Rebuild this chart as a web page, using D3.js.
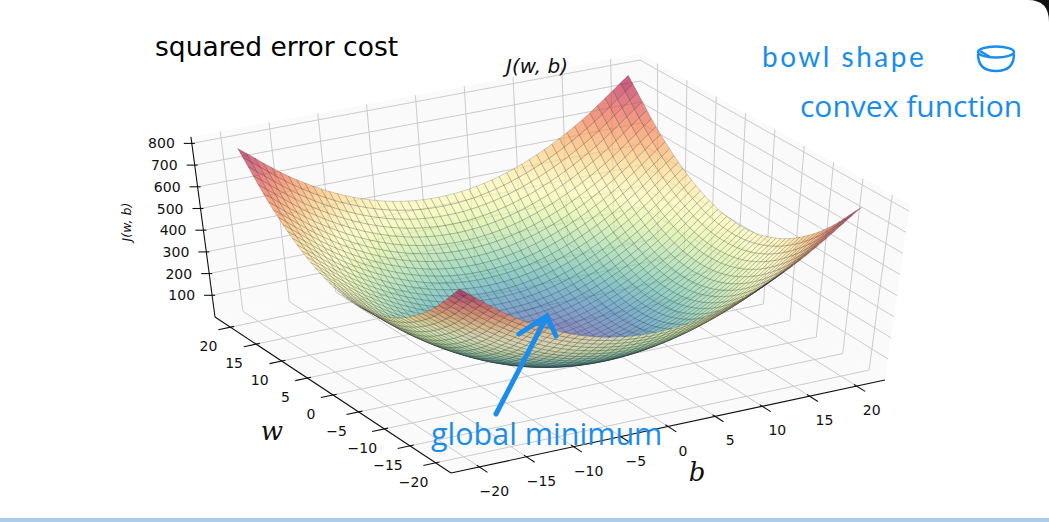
<!DOCTYPE html>
<html><head><meta charset="utf-8">
<script src="https://cdn.jsdelivr.net/npm/d3@7"></script>
<style>body{margin:0;background:#fff;overflow:hidden}svg{display:block}</style>
</head><body>
<svg id="c" width="1049" height="522"></svg>
<script>
// ---- data ----
const bTicks = [-20,-15,-10,-5,0,5,10,15,20];
const wTicks = [-20,-15,-10,-5,0,5,10,15,20];
const zTicks = [100,200,300,400,500,600,700,800];
const gridB = [-20,-15,-10,-5,0,5,10,15,20];
const gridW = [-20,-15,-10,-5,0,5,10,15,20];
// J(w,b) sampled at gridW (rows) x gridB (cols)
const J = [
 [800,625,500,425,400,425,500,625,800],
 [625,450,325,250,225,250,325,450,625],
 [500,325,200,125,100,125,200,325,500],
 [425,250,125, 50, 25, 50,125,250,425],
 [400,225,100, 25,  0, 25,100,225,400],
 [425,250,125, 50, 25, 50,125,250,425],
 [500,325,200,125,100,125,200,325,500],
 [625,450,325,250,225,250,325,450,625],
 [800,625,500,425,400,425,500,625,800]
];

const svg = d3.select("#c");
const lim = 23, zTop = 830;
const u = d3.scaleLinear().domain([-lim,lim]).range([0,1]);
const C = {F:[451,473], R:[885,380], L:[215,317], K:[642,228]};
const Zv = {F:[-0.006,-0.209], R:[0.03,-0.211], L:[-0.029,-0.217], K:[-0.0025,-0.21]};
function bil(o,s,t,k){ return (1-s)*(1-t)*o.F[k] + s*(1-t)*o.R[k] + (1-s)*t*o.L[k] + s*t*o.K[k]; }
function P(b,w,z){ const s=u(b), t=u(w); return [bil(C,s,t,0)+z*bil(Zv,s,t,0), bil(C,s,t,1)+z*bil(Zv,s,t,1)]; }
const line = d3.line();

const pane = svg.append("g");
const paneFill = "#fafafa";
function poly(pts){ return "M"+pts.map(p=>p.join(",")).join("L")+"Z"; }
pane.append("path").attr("d",poly([P(-lim,-lim,0),P(lim,-lim,0),P(lim,lim,0),P(-lim,lim,0)])).attr("fill",paneFill);
pane.append("path").attr("d",poly([P(-lim,lim,0),P(lim,lim,0),P(lim,lim,zTop),P(-lim,lim,zTop)])).attr("fill",paneFill);
pane.append("path").attr("d",poly([P(lim,-lim,0),P(lim,lim,0),P(lim,lim,zTop),P(lim,-lim,zTop)])).attr("fill",paneFill);
const gc = "#cbcbcb";
function seg(a,b2,col,wd){ pane.append("path").attr("d",line([a,b2])).attr("stroke",col).attr("stroke-width",wd).attr("fill","none"); }
bTicks.forEach(b=>{ seg(P(b,-lim,0),P(b,lim,0),gc,1); seg(P(b,lim,0),P(b,lim,zTop),gc,1); });
wTicks.forEach(w=>{ seg(P(-lim,w,0),P(lim,w,0),gc,1); seg(P(lim,w,0),P(lim,w,zTop),gc,1); });
zTicks.forEach(z=>{ seg(P(-lim,lim,z),P(lim,lim,z),gc,1); seg(P(lim,-lim,z),P(lim,lim,z),gc,1); });

const ax = svg.append("g").attr("font-family","DejaVu Sans").attr("font-size",14).attr("fill","#111");
function aseg(a,b2){ ax.append("path").attr("d",line([a,b2])).attr("stroke","#111").attr("stroke-width",1.1).attr("fill","none"); }
aseg(P(-lim,lim,0),P(-lim,lim,zTop));
aseg(P(-lim,-lim,0),P(-lim,lim,0));
aseg(P(-lim,-lim,0),P(lim,-lim,0));
zTicks.forEach(z=>{
  const p=P(-lim,lim,z);
  aseg([p[0]-8,p[1]],[p[0]+3,p[1]]);
  ax.append("text").attr("x",p[0]-17).attr("y",p[1]+5).attr("text-anchor","end").text(z);
});
wTicks.forEach(w=>{
  const p=P(-lim,w,0), q=P(-lim-1.3,w,0), r=P(-lim+0.4,w,0);
  aseg(q,r);
  ax.append("text").attr("x",p[0]-22).attr("y",p[1]+24).attr("text-anchor","middle").text(String(w).replace("-","\u2212"));
});
bTicks.forEach(b=>{
  const p=P(b,-lim,0), q=P(b,-lim-1.6,0), r=P(b,-lim+0.5,0);
  aseg(q,r);
  ax.append("text").attr("x",p[0]+15).attr("y",p[1]+29).attr("text-anchor","middle").text(String(b).replace("-","\u2212"));
});

function cr(p0,p1,p2,p3,t){ return 0.5*((2*p1)+(-p0+p2)*t+(2*p0-5*p1+4*p2-p3)*t*t+(-p0+3*p1-3*p2+p3)*t*t*t); }
function at(arr,i){ const n=arr.length; if(i<0) return 2*arr[0]-arr[1]; if(i>=n) return 2*arr[n-1]-arr[n-2]; return arr[i]; }
function interp1(arr,x){ let i=Math.min(Math.floor(x),arr.length-2); const t=x-i; return cr(at(arr,i-1),at(arr,i),at(arr,i+1),at(arr,i+2),t); }
const ib = d3.scaleLinear().domain(d3.extent(gridB)).range([0,gridB.length-1]);
const iw = d3.scaleLinear().domain(d3.extent(gridW)).range([0,gridW.length-1]);
function Jat(w,b){ const rows = J.map(r=>interp1(r,ib(b))); return interp1(rows,iw(w)); }
const N=50, step=40/N;
const pts=[];
for(let i=0;i<=N;i++){ pts.push([]); for(let j=0;j<=N;j++){ const w=-20+i*step, b=-20+j*step; pts[i].push({w,b,z:Jat(w,b)}); } }
const quads=[];
for(let i=0;i<N;i++) for(let j=0;j<N;j++){
  const c=[pts[i][j],pts[i][j+1],pts[i+1][j+1],pts[i+1][j]];
  const mb=d3.mean(c,d=>d.b), mw=d3.mean(c,d=>d.w), mz=d3.mean(c,d=>d.z);
  quads.push({c, depth: mb+1.84*mw-0.068*mz, z:mz});
}
quads.sort((a,b)=>b.depth-a.depth);
const col = d3.scaleSequential(t=>d3.interpolateSpectral(1-t)).domain([0,800]);
svg.append("g").selectAll("path").data(quads).join("path")
  .attr("d",q=>poly(q.c.map(d=>P(d.b,d.w,d.z))))
  .attr("fill",q=>col(q.z)).attr("fill-opacity",0.68)
  .attr("stroke","rgba(30,30,30,0.38)").attr("stroke-width",0.5);

const tx = svg.append("g");
tx.append("text").attr("x",155).attr("y",56).attr("font-family","DejaVu Sans").attr("font-size",26.5).attr("fill","#000").text("squared error cost");
tx.append("text").attr("x",537).attr("y",73).attr("text-anchor","middle").attr("font-family","DejaVu Sans").attr("font-style","italic").attr("font-size",20).attr("fill","#111").text("J(w, b)");
tx.append("text").attr("transform","translate(131,222) rotate(-90)").attr("text-anchor","middle").attr("font-family","DejaVu Sans").attr("font-style","italic").attr("font-size",12.5).attr("fill","#111").text("J(w, b)");
tx.append("text").attr("x",272).attr("y",440).attr("text-anchor","middle").attr("font-family","DejaVu Serif").attr("font-style","italic").attr("font-size",26).attr("fill","#111").text("w");
tx.append("text").attr("x",697).attr("y",481).attr("text-anchor","middle").attr("font-family","DejaVu Serif").attr("font-style","italic").attr("font-size",26).attr("fill","#111").text("b");

const blue="#1a8cec";
tx.append("text").attr("x",800).attr("y",117).attr("font-family","Open Sans").attr("font-size",30).attr("fill",blue).text("convex function");
tx.append("text").attr("x",431).attr("y",445).attr("font-family","Open Sans").attr("font-size",30.5).attr("fill",blue).text("global minimum");
tx.append("text").attr("x",762).attr("y",67).attr("font-family","Lato").attr("font-weight",400).attr("font-size",28).attr("letter-spacing",2.5).attr("fill",blue).text("bowl shape");
const bw = tx.append("g").attr("stroke",blue).attr("stroke-width",2.5).attr("fill","none");
bw.append("ellipse").attr("cx",996).attr("cy",52).attr("rx",18).attr("ry",5.5);
bw.append("path").attr("d","M978,54 C978,66 985,71 996,71 C1007,71 1014,66 1014,54");
bw.append("path").attr("d","M980,51 L990,57");
const ar = svg.append("g").attr("stroke",blue).attr("stroke-width",5).attr("fill","none").attr("stroke-linecap","round");
ar.append("path").attr("d","M496,414 L546,318");
ar.append("path").attr("d","M519,334 L547,316 L556,336");

svg.append("rect").attr("x",0).attr("y",518).attr("width",1049).attr("height",4).attr("fill","#a9cdea");
svg.append("path").attr("d","M1028,0 Q1049,0 1049,22 L1049,0 Z").attr("fill","#111");
</script>
</body></html>
